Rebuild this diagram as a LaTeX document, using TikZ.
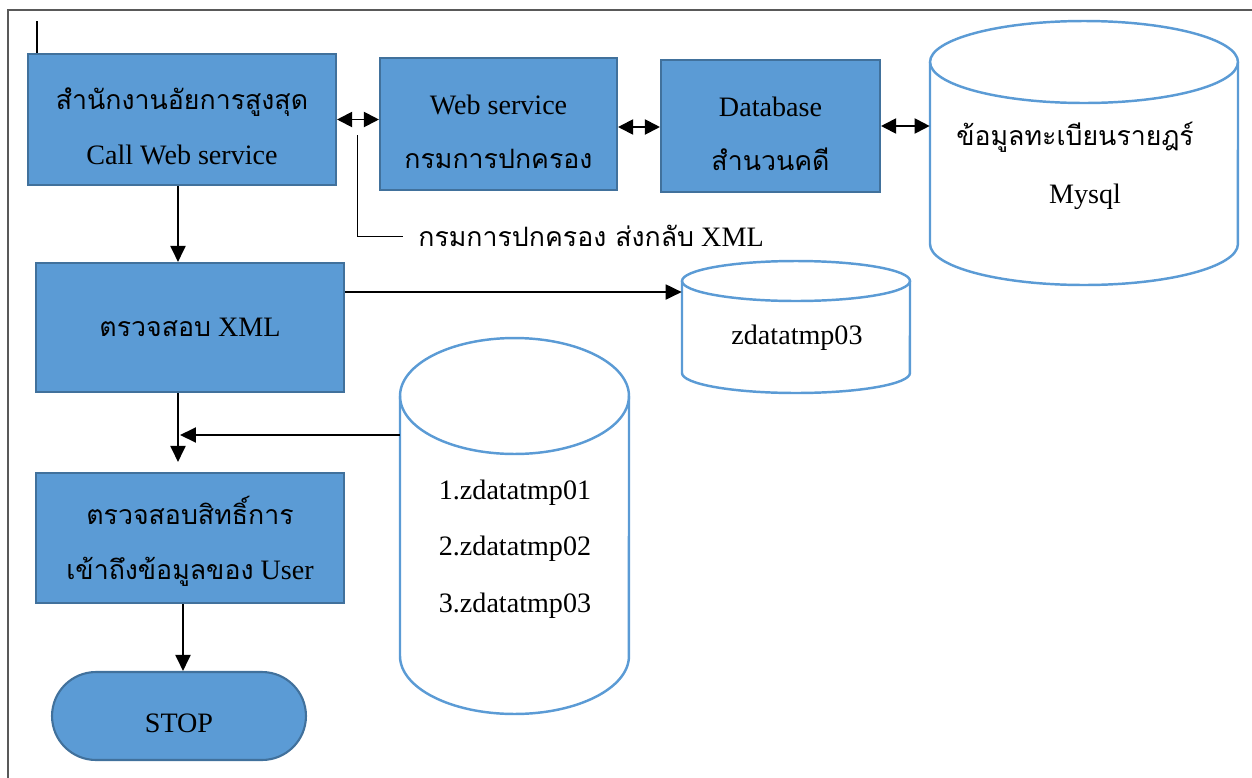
\documentclass[tikz,border=0pt]{standalone}
\usepackage{fontspec}
\setmainfont{Liberation Serif}
\newfontfamily\thaifont[Script=Thai,Scale=0.95]{Loma}
\usepackage{tikz}
\usetikzlibrary{arrows.meta}
\definecolor{boxblue}{HTML}{5B9BD5}
\definecolor{boxline}{HTML}{41719C}
\definecolor{drumline}{HTML}{5B9BD5}
\definecolor{framegray}{HTML}{595959}
\newcommand{\lift}{\rule{0pt}{20pt}}

\begin{document}
\begin{tikzpicture}[x=0.02cm, y=-0.02cm]
   \tikzstyle{stepbox}=[rectangle, draw=boxline, fill=boxblue, line width=1.2pt, align=center, inner sep=0pt, font=\fontsize{16}{31}\selectfont]
   \tikzstyle{drum}=[draw=drumline, line width=1.4pt]
   \tikzstyle{hold}=[rectangle, inner sep=0pt]
   \tikzstyle{txt}=[inner sep=0pt, font=\fontsize{16}{19}\selectfont]
   \tikzstyle{link}=[-{Triangle[length=0.32cm, width=0.3cm]}, line width=1.1pt]
   \tikzstyle{both}=[{Triangle[length=0.3cm, width=0.3cm]}-{Triangle[length=0.3cm, width=0.3cm]}, line width=1.1pt]

   \useasboundingbox (0,0) rectangle (1252,778);

   \draw[framegray, line width=1pt] (8,778) -- (8,10) -- (1252,10);

   \node[stepbox, minimum width=6.16cm, minimum height=2.62cm] (office) at (182,119.5) {\lift{\thaifont สำนักงานอัยการสูงสุด}\\Call Web service};
   \node[stepbox, minimum width=4.74cm, minimum height=2.64cm] (websvc) at (498.5,124) {\lift Web service\\{\thaifont กรมการปกครอง}};
   \node[stepbox, minimum width=4.38cm, minimum height=2.64cm] (dbcase) at (770.5,126) {\lift Database\\{\thaifont สำนวนคดี}};
   \node[stepbox, minimum width=6.16cm, minimum height=2.58cm] (chkxml) at (190,327.5) {{\thaifont ตรวจสอบ} XML};
   \node[stepbox, minimum width=6.16cm, minimum height=2.60cm] (chkright) at (190,538) {\lift{\thaifont ตรวจสอบสิทธิ์การ}\\{\thaifont เข้าถึงข้อมูลของ} User};
   \node[stepbox, minimum width=5.08cm, minimum height=1.76cm, rounded corners=0.88cm] (stop) at (179,716) {\rule{0pt}{19pt}STOP};

   \draw[drum] (930,62) -- (930,244) arc[start angle=180, end angle=360, x radius=3.08cm, y radius=0.82cm] -- (1238,62);
   \draw[drum] (1084,62) ellipse[x radius=3.08cm, y radius=0.82cm];
   \node[hold, minimum width=6.16cm, minimum height=5.28cm] (mysql) at (1084,153) {};
   \node[txt] (mysqlth) at (1075,137) {\thaifont ข้อมูลทะเบียนรายฎร์};
   \node[txt] (mysqlen) at (1085,197) {Mysql};

   \draw[drum] (682,281) -- (682,373) arc[start angle=180, end angle=360, x radius=2.28cm, y radius=0.4cm] -- (910,281);
   \draw[drum] (796,281) ellipse[x radius=2.28cm, y radius=0.4cm];
   \node[hold, minimum width=4.56cm, minimum height=2.64cm] (zd03) at (796,327) {};
   \node[txt] (zd03txt) at (797,338) {zdatatmp03};

   \draw[drum] (400,396) -- (400,656) arc[start angle=180, end angle=360, x radius=2.29cm, y radius=1.16cm] -- (629,396);
   \draw[drum] (514.5,396) ellipse[x radius=2.29cm, y radius=1.16cm];
   \node[hold, minimum width=4.58cm, minimum height=7.52cm] (tmpall) at (514.5,526) {};
   \node[txt] (tmp1) at (515,493) {1.zdatatmp01};
   \node[txt] (tmp2) at (515,549) {2.zdatatmp02};
   \node[txt] (tmp3) at (515,606) {3.zdatatmp03};

   \coordinate (stub) at (37,21);
   \coordinate (trunk) at (178,0);
   \coordinate (trunkb) at (183,0);
   \coordinate (join) at (180,435);
   \coordinate (tap) at (357,135);
   \node[txt, anchor=west] (retnote) at (418,236) {{\thaifont กรมการปกครอง ส่งกลับ} XML};

   \draw[line width=1.1pt] (stub) -- (stub |- office.north);
   \draw[both] (office.east) -- (office.east -| websvc.west);
   \draw[both] ([yshift=-0.06cm]websvc.east) -- ([yshift=-0.06cm]websvc.east -| dbcase.west);
   \draw[both] (dbcase.east) -- (dbcase.east -| mysql.west);
   \draw[line width=0.5pt] (tap) |- ([xshift=-0.3cm]retnote.west);
   \draw[link] (trunk |- office.south) -- (trunk |- chkxml.north);
   \draw[link] ([yshift=0.71cm]chkxml.east) -- ([yshift=0.71cm]chkxml.east -| zd03.west);
   \draw[link] (trunk |- chkxml.south) -- ([yshift=0.2cm]trunk |- chkright.north);
   \draw[link] (tmpall.west |- join) -- (join);
   \draw[link] (trunkb |- chkright.south) -- (trunkb |- stop.north);
\end{tikzpicture}
\end{document}
